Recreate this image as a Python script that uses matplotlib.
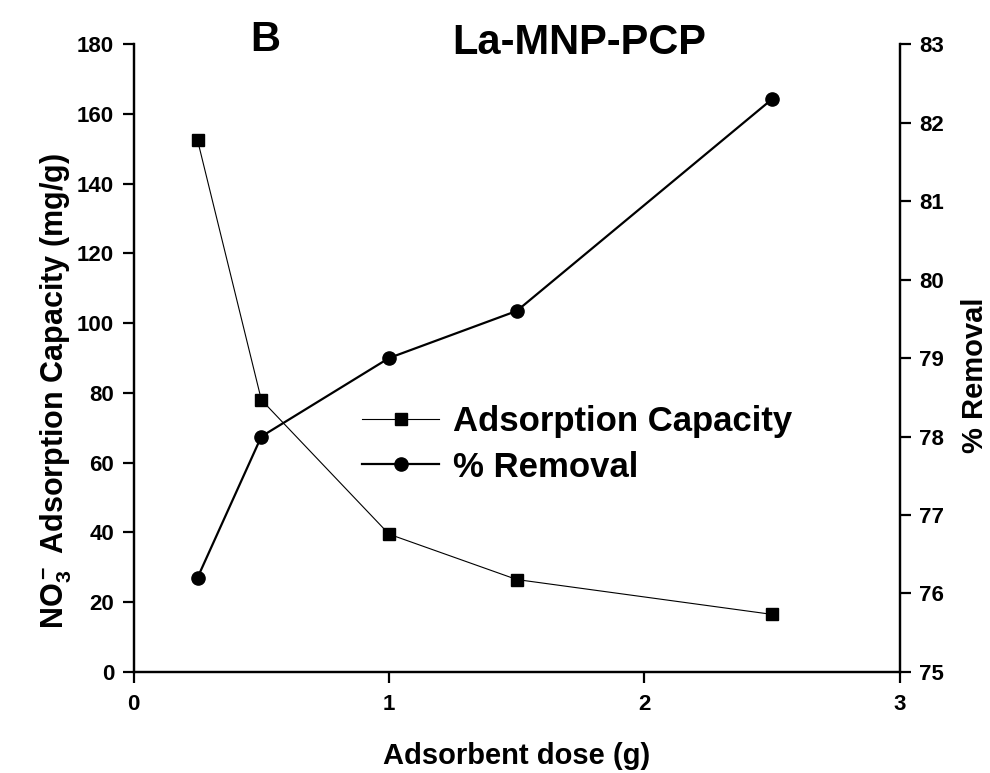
import matplotlib.pyplot as plt

plt.rcParams['font.family'] = ['Liberation Sans', 'DejaVu Sans']
plt.rcParams['font.weight'] = 'bold'
plt.rcParams['mathtext.fontset'] = 'custom'
plt.rcParams['mathtext.rm'] = 'Liberation Sans:bold'
plt.rcParams['mathtext.bf'] = 'Liberation Sans:bold'
plt.rcParams['mathtext.it'] = 'Liberation Sans:bold'

# data
dose = [0.25, 0.5, 1.0, 1.5, 2.5]
capacity = [152.5, 78.0, 39.5, 26.5, 16.5]
removal = [76.2, 78.0, 79.0, 79.6, 82.3]

fig = plt.figure(figsize=(9.9, 7.73), dpi=100)
ax = fig.add_axes([0.135, 0.1307, 0.774, 0.8123])
ax2 = ax.twinx()

l1, = ax.plot(dose, capacity, color='black', lw=0.8, marker='s', ms=9,
              label='Adsorption Capacity')
l2, = ax2.plot(dose, removal, color='black', lw=1.6, marker='o', ms=9.5,
               label='% Removal')

ax.set_xlim(0, 3)
ax.set_ylim(0, 180)
ax2.set_ylim(75, 83)
ax.set_xticks([0, 1, 2, 3])
ax.set_yticks(range(0, 181, 20))
ax2.set_yticks(range(75, 84))

for a in (ax, ax2):
    a.spines['top'].set_visible(False)
    for s in a.spines.values():
        s.set_linewidth(1.6)
    a.tick_params(direction='out', length=8, width=1.6, labelsize=16)
ax.tick_params(axis='x', pad=8)
ax.tick_params(axis='y', pad=6)
ax2.tick_params(axis='y', pad=6)

ax.set_xlabel('Adsorbent dose (g)', fontsize=21, fontweight='bold', labelpad=19)
ax.set_ylabel(r'NO$_3^-$ Adsorption Capacity (mg/g)', fontsize=22,
              fontweight='bold', labelpad=2)
ax.yaxis.label.set_y(0.447)
ax2.set_ylabel('% Removal', fontsize=21, fontweight='bold', labelpad=12)
ax2.yaxis.label.set_y(0.473)

fig.text(0.585, 0.945, 'La-MNP-PCP', fontsize=30, fontweight='bold',
         ha='center', va='center')
fig.text(0.268, 0.948, 'B', fontsize=30, fontweight='bold',
         ha='center', va='center')

fig.legend(handles=[l1, l2], loc='center left',
           bbox_to_anchor=(0.366, 0.425), frameon=False, fontsize=25,
           handlelength=2.2, handletextpad=0.4, labelspacing=0.35,
           borderaxespad=0, borderpad=0)

fig.savefig('out.png', dpi=100)
